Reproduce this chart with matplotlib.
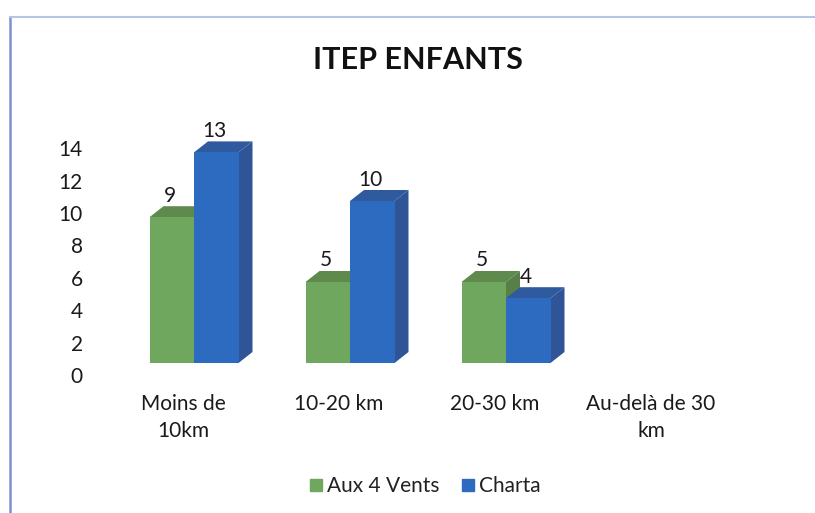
import matplotlib
matplotlib.use("Agg")
import matplotlib.pyplot as plt
from matplotlib.lines import Line2D
from matplotlib.patches import Polygon
from matplotlib.transforms import ScaledTranslation

categories = ["Moins de\n10km", "10-20 km", "20-30 km", "Au-delà de 30\nkm"]
aux_4_vents = [9, 5, 5, 0]
charta = [13, 10, 4, 0]
y_ticks = [0, 2, 4, 6, 8, 10, 12, 14]

W, H = 815, 513
plt.rcParams["font.family"] = ["Lato", "DejaVu Sans"]
fig = plt.figure(figsize=(W / 100, H / 100), dpi=100)

# axes box in pixels, the plot floor sits at the front bottom of the bars
left, right, top, bottom = 116, 740, 120, 363
ax = fig.add_axes([left / W, 1 - bottom / H, (right - left) / W, (bottom - top) / H])
px_x = 156.0  # px per category
px_y = 16.2   # px per unit
ax.set_xlim((left - 194) / px_x, (right - 194) / px_x)
ax.set_ylim(0, (bottom - top) / px_y)
for s in ax.spines.values():
    s.set_visible(False)

width = 44.5 / px_x
dx = 14 / px_x
dy = 11 / px_y


def draw_series(values, offset, front, side, topc, z):
    for i, v in enumerate(values):
        if v == 0:
            continue
        x0 = i + offset
        x1 = x0 + width
        ax.bar(x0, v, width, align="edge", color=front, zorder=z + 1, clip_on=False)
        ax.add_patch(Polygon([(x1, 0), (x1 + dx, dy), (x1 + dx, v + dy), (x1, v)],
                             closed=True, fc=side, ec="none", zorder=z, clip_on=False))
        ax.add_patch(Polygon([(x0, v), (x0 + dx, v + dy), (x1 + dx, v + dy), (x1, v)],
                             closed=True, fc=topc, ec="none", zorder=z, clip_on=False))
        ax.text(x0 + width / 2 - 2 / px_x, v + 21.5 / px_y, str(v), ha="center", va="center",
                fontsize=15, color="#1a1a1a", zorder=10)


draw_series(aux_4_vents, -width, "#6FA75F", "#587F48", "#5F8A4E", 2)
draw_series(charta, 0, "#2D6BC0", "#2F5597", "#2F5A9E", 4)

ax.set_yticks(y_ticks)
ax.set_xticks(range(len(categories)))
ax.set_xticklabels(categories, fontsize=15, color="#1a1a1a", linespacing=1.45)
ax.tick_params(axis="both", length=0)
ax.tick_params(axis="y", labelsize=15, labelcolor="#1a1a1a", pad=24)
ax.tick_params(axis="x", pad=22)

# labels in the reference sit lower and further left than the bars
shift_y = ScaledTranslation(0, -12 / 100, fig.dpi_scale_trans)
for lab in ax.get_yticklabels():
    lab.set_transform(lab.get_transform() + shift_y)
shift_x = ScaledTranslation(-11 / 100, 0, fig.dpi_scale_trans)
for lab in ax.get_xticklabels():
    lab.set_transform(lab.get_transform() + shift_x)

fig.text(418 / W, 1 - 60 / H, "ITEP ENFANTS", ha="center", va="center",
         fontsize=22, fontweight="bold", color="#111111")

handles = [Line2D([], [], ls="none", marker="s", ms=8.5, color="#6FA75F"),
           Line2D([], [], ls="none", marker="s", ms=8.5, color="#2D6BC0")]
fig.legend(handles, ["Aux 4 Vents", "Charta"], loc="center", ncol=2, frameon=False,
           bbox_to_anchor=(423 / W, 1 - 486 / H), fontsize=15, handletextpad=0.0,
           handlelength=1.0, columnspacing=0.9, labelcolor="#222222")

# border of the scanned chart frame
fig.add_artist(Line2D([9.5 / W, 9.5 / W], [0, 1 - 17 / H], color="#7F8FD0", lw=1.8))
fig.add_artist(Line2D([9.5 / W, 1], [1 - 17 / H, 1 - 17 / H], color="#B4C6E4", lw=1.5))

fig.savefig("out.png", dpi=100)
